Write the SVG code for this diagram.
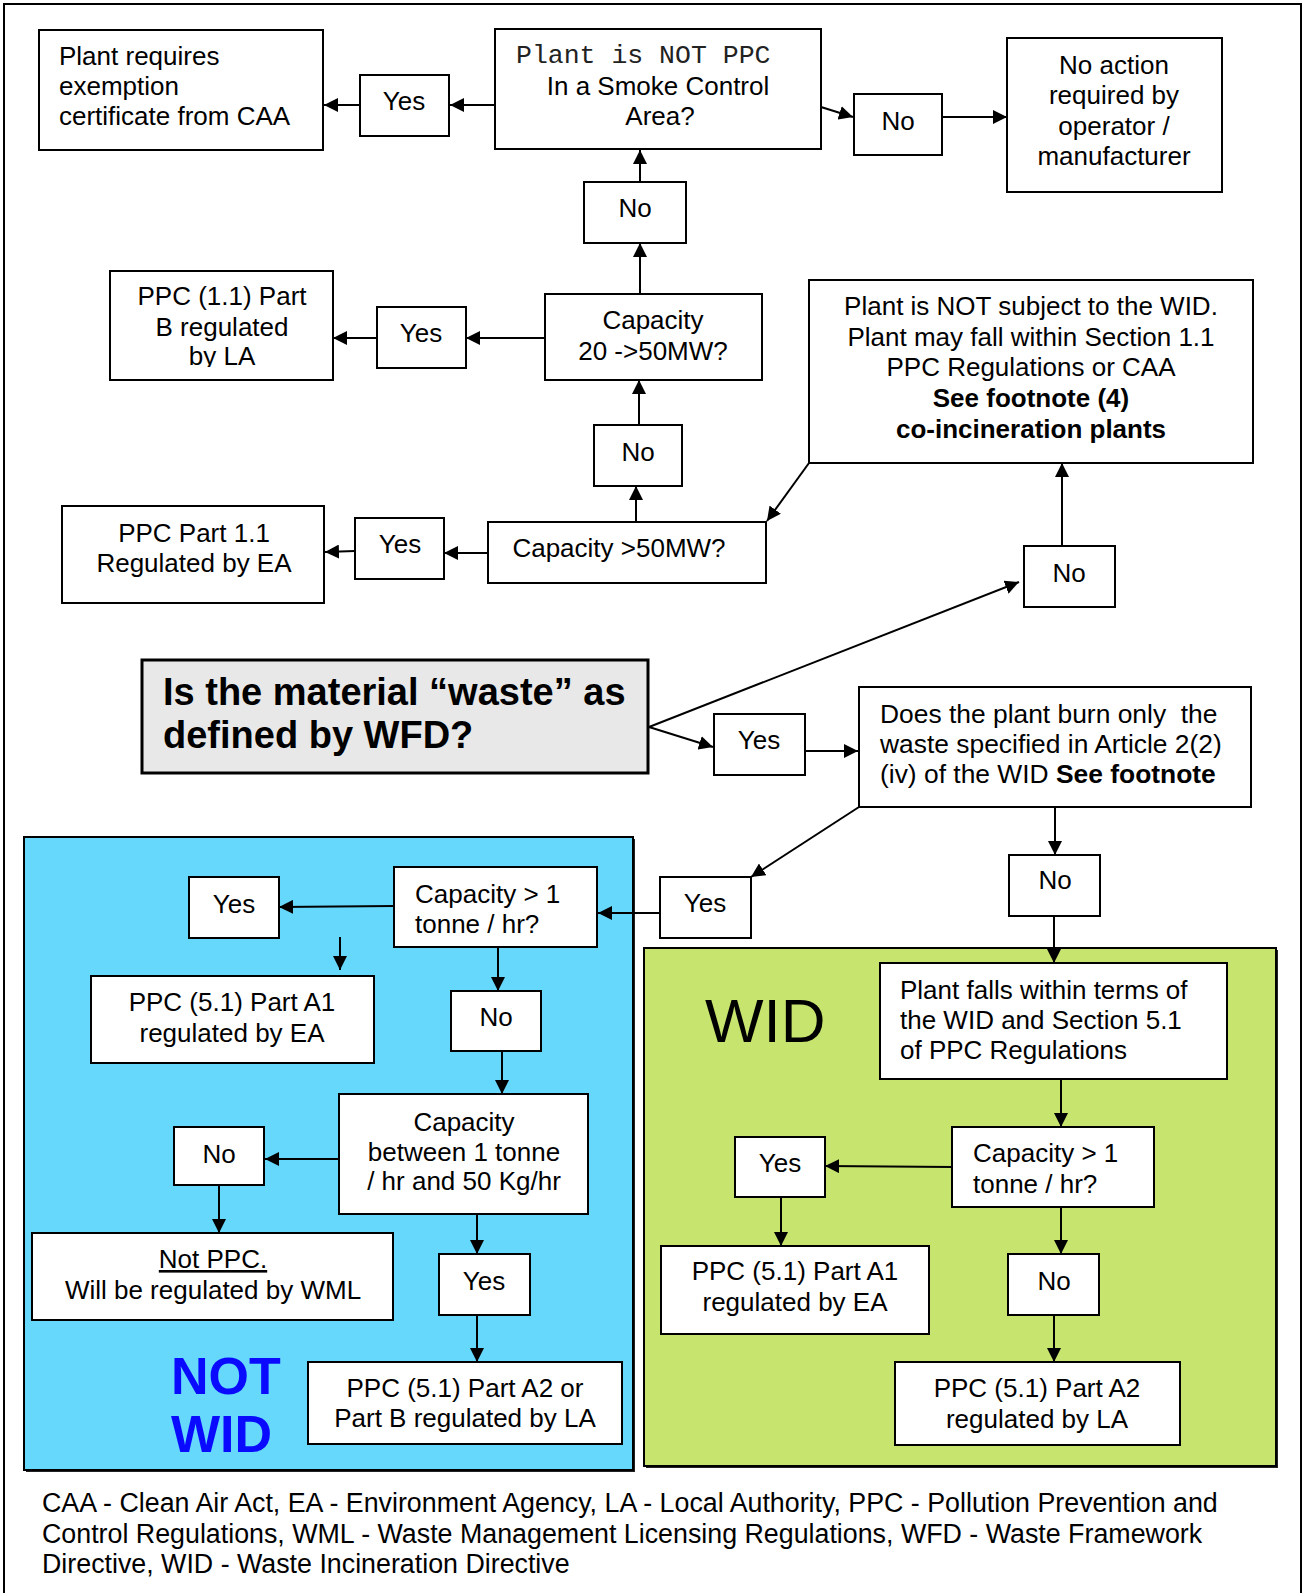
<svg xmlns="http://www.w3.org/2000/svg" width="1305" height="1593" viewBox="0 0 1305 1593">
<style>
text{font-family:"Liberation Sans",Arial,sans-serif;font-size:26px;fill:#000}
.c{text-anchor:middle}
.b{font-weight:bold}
.mono{font-family:"Liberation Mono","Courier New",monospace;font-size:26.5px;fill:#222}
.foot{font-size:26.8px}
.box{fill:#fff;stroke:#000;stroke-width:2}
.ln{fill:none;stroke:#000;stroke-width:2;marker-end:url(#ah)}
</style>
<defs>
<marker id="ah" markerUnits="userSpaceOnUse" markerWidth="16" markerHeight="14" refX="14" refY="7" orient="auto">
<path d="M0,0 L14,7 L0,14 z" fill="#000"/>
</marker>
<clipPath id="clipE"><rect x="110" y="271" width="223" height="96"/></clipPath>
</defs>
<rect width="1305" height="1593" fill="#fff"/>
<rect x="4" y="4" width="1297" height="1650" fill="none" stroke="#000" stroke-width="2"/>

<g id="region-notwid">
<rect x="26" y="839" width="609" height="633" fill="#222"/>
<rect x="24" y="837" width="609" height="633" fill="#66d8fc" stroke="#000" stroke-width="2"/>
<text x="171" y="1394" class="b" style="font-size:52px;fill:#0a0aff">NOT</text>
<text x="171" y="1452" class="b" style="font-size:52px;fill:#0a0aff">WID</text>
</g>
<g id="region-wid">
<rect x="646" y="950" width="632" height="518" fill="#222"/>
<rect x="644" y="948" width="632" height="518" fill="#c6e46e" stroke="#000" stroke-width="2"/>
<text x="705" y="1042" style="font-size:62px">WID</text>
</g>

<g id="connectors">
<line class="ln" x1="495" y1="105" x2="450" y2="105"/>
<line class="ln" x1="360" y1="105" x2="324" y2="105"/>
<line class="ln" x1="821" y1="107" x2="853" y2="117"/>
<line class="ln" x1="942" y1="117" x2="1007" y2="117"/>
<line class="ln" x1="640" y1="182" x2="640" y2="150"/>
<line class="ln" x1="640" y1="294" x2="640" y2="243"/>
<line class="ln" x1="545" y1="338" x2="466" y2="338"/>
<line class="ln" x1="377" y1="338" x2="333" y2="338"/>
<line class="ln" x1="639" y1="425" x2="639" y2="380"/>
<line class="ln" x1="636" y1="522" x2="636" y2="486"/>
<line class="ln" x1="488" y1="553" x2="444" y2="553"/>
<line class="ln" x1="355" y1="551" x2="325" y2="552"/>
<line class="ln" x1="809" y1="463" x2="767" y2="521"/>
<line class="ln" x1="1062" y1="546" x2="1062" y2="463"/>
<line class="ln" x1="649" y1="727" x2="1019" y2="582"/>
<line class="ln" x1="649" y1="727" x2="713" y2="747"/>
<line class="ln" x1="805" y1="751" x2="858" y2="751"/>
<line class="ln" x1="1055" y1="807" x2="1055" y2="855"/>
<line class="ln" x1="859" y1="807" x2="751" y2="877"/>
<line class="ln" x1="660" y1="913" x2="598" y2="913"/>
<line class="ln" x1="394" y1="906" x2="279" y2="907"/>
<line class="ln" x1="340" y1="937" x2="340" y2="970"/>
<line class="ln" x1="498" y1="947" x2="498" y2="991"/>
<line class="ln" x1="502" y1="1051" x2="502" y2="1094"/>
<line class="ln" x1="339" y1="1159" x2="265" y2="1159"/>
<line class="ln" x1="219" y1="1185" x2="219" y2="1233"/>
<line class="ln" x1="477" y1="1214" x2="477" y2="1254"/>
<line class="ln" x1="477" y1="1315" x2="477" y2="1362"/>
<line class="ln" x1="1054" y1="916" x2="1054" y2="963"/>
<line class="ln" x1="1061" y1="1079" x2="1061" y2="1127"/>
<line class="ln" x1="952" y1="1167" x2="825" y2="1166"/>
<line class="ln" x1="781" y1="1197" x2="781" y2="1246"/>
<line class="ln" x1="1061" y1="1207" x2="1061" y2="1254"/>
<line class="ln" x1="1054" y1="1315" x2="1054" y2="1362"/>
</g>

<g id="node-exemption">
<rect class="box" x="39" y="30" width="284" height="120"/>
<text x="59" y="65">Plant requires</text>
<text x="59" y="95">exemption</text>
<text x="59" y="125">certificate from CAA</text>
</g>
<g id="node-yes1"><rect class="box" x="360" y="75" width="89" height="61"/><text class="c" x="404" y="110">Yes</text></g>
<g id="node-smoke">
<rect class="box" x="495" y="29" width="326" height="120"/>
<text class="mono" x="516" y="63">Plant is NOT PPC</text>
<text class="c" x="658" y="95">In a Smoke Control</text>
<text class="c" x="660" y="125">Area?</text>
</g>
<g id="node-no1"><rect class="box" x="854" y="94" width="88" height="61"/><text class="c" x="898" y="130">No</text></g>
<g id="node-noaction">
<rect class="box" x="1007" y="38" width="215" height="154"/>
<text class="c" x="1114" y="74">No action</text>
<text class="c" x="1114" y="104">required by</text>
<text class="c" x="1114" y="135">operator /</text>
<text class="c" x="1114" y="165">manufacturer</text>
</g>
<g id="node-no2"><rect class="box" x="584" y="182" width="102" height="61"/><text class="c" x="635" y="217">No</text></g>
<g id="node-cap2050">
<rect class="box" x="545" y="294" width="217" height="86"/>
<text class="c" x="653" y="329">Capacity</text>
<text class="c" x="653" y="360">20 -&gt;50MW?</text>
</g>
<g id="node-yes2"><rect class="box" x="377" y="307" width="89" height="61"/><text class="c" x="421" y="342">Yes</text></g>
<g id="node-ppc11b">
<rect class="box" x="110" y="271" width="223" height="109"/>
<g clip-path="url(#clipE)">
<text class="c" x="222" y="305">PPC (1.1) Part</text>
<text class="c" x="222" y="336">B regulated</text>
<text class="c" x="222" y="365">by LA</text>
</g>
</g>
<g id="node-no3"><rect class="box" x="594" y="425" width="88" height="61"/><text class="c" x="638" y="461">No</text></g>
<g id="node-cap50"><rect class="box" x="488" y="522" width="278" height="61"/><text class="c" x="619" y="557">Capacity &gt;50MW?</text></g>
<g id="node-yes3"><rect class="box" x="355" y="518" width="89" height="61"/><text class="c" x="400" y="553">Yes</text></g>
<g id="node-ppc11ea">
<rect class="box" x="62" y="506" width="262" height="97"/>
<text class="c" x="194" y="542">PPC Part 1.1</text>
<text class="c" x="194" y="572">Regulated by EA</text>
</g>
<g id="node-notwid">
<rect class="box" x="809" y="280" width="444" height="183"/>
<text class="c" x="1031" y="315">Plant is NOT subject to the WID.</text>
<text class="c" x="1031" y="345.5">Plant may fall within Section 1.1</text>
<text class="c" x="1031" y="376">PPC Regulations or CAA</text>
<text class="c b" x="1031" y="407">See footnote (4)</text>
<text class="c b" x="1031" y="437.5">co-incineration plants</text>
</g>
<g id="node-no4"><rect class="box" x="1024" y="546" width="91" height="61"/><text class="c" x="1069" y="582">No</text></g>
<g id="node-waste">
<rect x="142" y="660" width="506" height="113" fill="#e8e8e8" stroke="#000" stroke-width="3"/>
<text class="b" x="163" y="705" style="font-size:38px">Is the material “waste” as</text>
<text class="b" x="163" y="748" style="font-size:38px">defined by WFD?</text>
</g>
<g id="node-yes4"><rect class="box" x="714" y="714" width="91" height="61"/><text class="c" x="759" y="749">Yes</text></g>
<g id="node-burn">
<rect class="box" x="859" y="687" width="392" height="120"/>
<text x="880" y="723" xml:space="preserve" style="font-size:26.4px">Does the plant burn only  the</text>
<text x="880" y="753" style="font-size:26.4px">waste specified in Article 2(2)</text>
<text x="880" y="783" style="font-size:26.4px">(iv) of the WID <tspan class="b">See footnote</tspan></text>
</g>
<g id="node-no5"><rect class="box" x="1009" y="855" width="91" height="61"/><text class="c" x="1055" y="889">No</text></g>
<g id="node-yes5"><rect class="box" x="660" y="877" width="91" height="61"/><text class="c" x="705" y="912">Yes</text></g>

<g id="node-cap1-nw">
<rect class="box" x="394" y="867" width="203" height="80"/>
<text x="415" y="903">Capacity &gt; 1</text>
<text x="415" y="933">tonne / hr?</text>
</g>
<g id="node-yes6"><rect class="box" x="189" y="877" width="90" height="61"/><text class="c" x="234" y="913">Yes</text></g>
<g id="node-a1-nw">
<rect class="box" x="91" y="976" width="283" height="87"/>
<text class="c" x="232" y="1011">PPC (5.1) Part A1</text>
<text class="c" x="232" y="1042">regulated by EA</text>
</g>
<g id="node-no6"><rect class="box" x="451" y="991" width="90" height="60"/><text class="c" x="496" y="1026">No</text></g>
<g id="node-between">
<rect class="box" x="339" y="1094" width="249" height="120"/>
<text class="c" x="464" y="1131">Capacity</text>
<text class="c" x="464" y="1161">between 1 tonne</text>
<text class="c" x="464" y="1190">/ hr and 50 Kg/hr</text>
</g>
<g id="node-no7"><rect class="box" x="174" y="1127" width="90" height="58"/><text class="c" x="219" y="1163">No</text></g>
<g id="node-notppc">
<rect class="box" x="32" y="1233" width="361" height="87"/>
<text class="c" x="213" y="1268" text-decoration="underline">Not PPC.</text>
<text class="c" x="213" y="1299">Will be regulated by WML</text>
</g>
<g id="node-yes7"><rect class="box" x="439" y="1254" width="91" height="61"/><text class="c" x="484" y="1290">Yes</text></g>
<g id="node-a2b">
<rect class="box" x="308" y="1362" width="314" height="82"/>
<text class="c" x="465" y="1397">PPC (5.1) Part A2 or</text>
<text class="c" x="465" y="1427">Part B regulated by LA</text>
</g>

<g id="node-widterms">
<rect class="box" x="880" y="963" width="347" height="116"/>
<text x="900" y="999">Plant falls within terms of</text>
<text x="900" y="1029">the WID and Section 5.1</text>
<text x="900" y="1059">of PPC Regulations</text>
</g>
<g id="node-cap1-w">
<rect class="box" x="952" y="1127" width="202" height="80"/>
<text x="973" y="1162">Capacity &gt; 1</text>
<text x="973" y="1193">tonne / hr?</text>
</g>
<g id="node-yes8"><rect class="box" x="735" y="1137" width="90" height="60"/><text class="c" x="780" y="1172">Yes</text></g>
<g id="node-a1-w">
<rect class="box" x="661" y="1246" width="268" height="88"/>
<text class="c" x="795" y="1280">PPC (5.1) Part A1</text>
<text class="c" x="795" y="1311">regulated by EA</text>
</g>
<g id="node-no8"><rect class="box" x="1008" y="1254" width="91" height="61"/><text class="c" x="1054" y="1290">No</text></g>
<g id="node-a2-w">
<rect class="box" x="895" y="1362" width="285" height="83"/>
<text class="c" x="1037" y="1397">PPC (5.1) Part A2</text>
<text class="c" x="1037" y="1428">regulated by LA</text>
</g>

<g id="footer">
<text class="foot" x="42" y="1512">CAA - Clean Air Act, EA - Environment Agency, LA - Local Authority, PPC - Pollution Prevention and</text>
<text class="foot" x="42" y="1542.5">Control Regulations, WML - Waste Management Licensing Regulations, WFD - Waste Framework</text>
<text class="foot" x="42" y="1573">Directive, WID - Waste Incineration Directive</text>
</g>
</svg>
